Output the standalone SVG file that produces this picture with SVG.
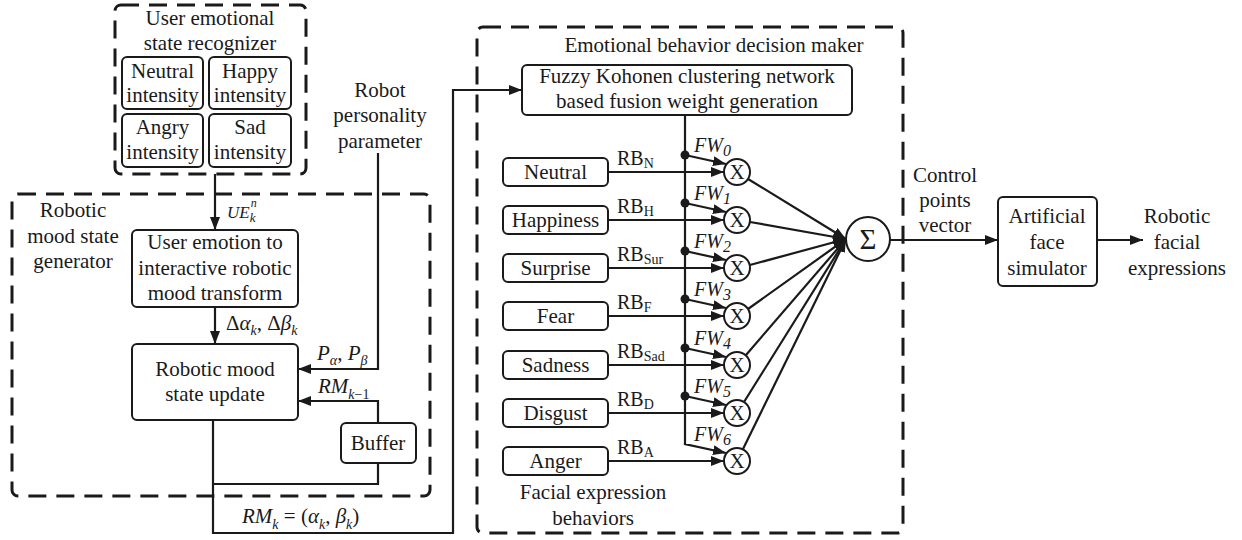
<svg xmlns="http://www.w3.org/2000/svg" width="1242" height="540" viewBox="0 0 1242 540" font-family="'Liberation Serif','Times New Roman',serif">
<defs>
<style>
.dash{fill:none;stroke:#1a1a1a;stroke-width:3;stroke-dasharray:18 10}
.box{fill:#fff;stroke:#1a1a1a;stroke-width:2}
.ln{fill:none;stroke:#1a1a1a;stroke-width:2.2}
.arr{marker-end:url(#ah)}
.dot{fill:#1a1a1a}
text{font-family:"Liberation Serif","Times New Roman",serif;font-size:21px;fill:#1a1a1a}
.c{text-anchor:middle}
.i{font-style:italic}
.s{font-size:14px}
.rb{font-size:20px}
</style>
<marker id="ah" markerUnits="userSpaceOnUse" markerWidth="13" markerHeight="10" refX="13" refY="5" orient="auto">
<path d="M0,0 L13,5 L0,10 z" fill="#1a1a1a"/>
</marker>
</defs>
<rect width="1242" height="540" fill="#fff"/>

<g id="containers">
<rect class="dash" x="115" y="5" width="191" height="169" rx="6"/>
<rect class="dash" x="12" y="194" width="418" height="302" rx="6"/>
<rect class="dash" x="477" y="27" width="426" height="506" rx="6"/>
</g>

<g id="connectors">
<line class="ln arr" x1="215" y1="174" x2="215" y2="230"/>
<line class="ln arr" x1="215" y1="307" x2="215" y2="344"/>
<polyline class="ln arr" points="378,153 378,369 298,369"/>
<polyline class="ln arr" points="378,423 378,401 298,401"/>
<polyline class="ln" points="378,463 378,484 213,484"/>
<polyline class="ln arr" points="213,420 213,533 453,533 453,90 522,90"/>
<polyline class="ln" points="685,115 685,444"/>
<line class="ln arr" x1="608" y1="172" x2="724" y2="172"/>
<line class="ln arr" x1="608" y1="220" x2="724" y2="220"/>
<line class="ln arr" x1="608" y1="268" x2="724" y2="268"/>
<line class="ln arr" x1="608" y1="316" x2="724" y2="316"/>
<line class="ln arr" x1="608" y1="365" x2="724" y2="365"/>
<line class="ln arr" x1="608" y1="413" x2="724" y2="413"/>
<line class="ln arr" x1="608" y1="461" x2="724" y2="461"/>
<line class="ln arr" x1="685" y1="155" x2="726" y2="164"/>
<line class="ln arr" x1="685" y1="203" x2="726" y2="212"/>
<line class="ln arr" x1="685" y1="251" x2="726" y2="260"/>
<line class="ln arr" x1="685" y1="299" x2="726" y2="308"/>
<line class="ln arr" x1="685" y1="348" x2="726" y2="357"/>
<line class="ln arr" x1="685" y1="396" x2="726" y2="405"/>
<polyline class="ln arr" points="685,443 685,444 726,453"/>
<circle class="dot" cx="685" cy="155" r="4.5"/>
<circle class="dot" cx="685" cy="203" r="4.5"/>
<circle class="dot" cx="685" cy="251" r="4.5"/>
<circle class="dot" cx="685" cy="299" r="4.5"/>
<circle class="dot" cx="685" cy="348" r="4.5"/>
<circle class="dot" cx="685" cy="396" r="4.5"/>
<line class="ln arr" x1="748" y1="179" x2="846" y2="239"/>
<line class="ln arr" x1="750" y1="222" x2="846" y2="239"/>
<line class="ln arr" x1="750" y1="265" x2="846" y2="239"/>
<line class="ln arr" x1="748" y1="309" x2="846" y2="239"/>
<line class="ln arr" x1="746" y1="355" x2="846" y2="239"/>
<line class="ln arr" x1="744" y1="402" x2="846" y2="239"/>
<line class="ln arr" x1="743" y1="449" x2="846" y2="239"/>
<line class="ln arr" x1="890" y1="240" x2="998" y2="240"/>
<line class="ln arr" x1="1097" y1="240" x2="1143" y2="240"/>
</g>

<g id="recognizer-title">
<text class="c" x="210" y="25">User emotional</text>
<text class="c" x="210" y="50">state recognizer</text>
</g>
<g id="neutral-intensity">
<rect class="box" x="122" y="57" width="81" height="52" rx="5"/>
<text class="c" x="162.5" y="78">Neutral</text>
<text class="c" x="162.5" y="102">intensity</text>
</g>
<g id="happy-intensity">
<rect class="box" x="209" y="57" width="82" height="52" rx="5"/>
<text class="c" x="250" y="78">Happy</text>
<text class="c" x="250" y="102">intensity</text>
</g>
<g id="angry-intensity">
<rect class="box" x="122" y="114" width="81" height="53" rx="5"/>
<text class="c" x="162.5" y="134">Angry</text>
<text class="c" x="162.5" y="159">intensity</text>
</g>
<g id="sad-intensity">
<rect class="box" x="209" y="114" width="82" height="53" rx="5"/>
<text class="c" x="250" y="134">Sad</text>
<text class="c" x="250" y="159">intensity</text>
</g>

<g id="mood-generator-label">
<text class="c" x="73" y="217">Robotic</text>
<text class="c" x="73" y="243">mood state</text>
<text class="c" x="73" y="268">generator</text>
</g>
<g id="robot-personality">
<text class="c" x="380" y="97">Robot</text>
<text class="c" x="380" y="122">personality</text>
<text class="c" x="380" y="148">parameter</text>
</g>
<g id="user-emotion-transform">
<rect class="box" x="132" y="230" width="166" height="77" rx="5"/>
<text class="c" x="215" y="249">User emotion to</text>
<text class="c" x="215" y="275">interactive robotic</text>
<text class="c" x="215" y="300">mood transform</text>
</g>
<g id="mood-update">
<rect class="box" x="132" y="344" width="166" height="76" rx="5"/>
<text class="c" x="215" y="376">Robotic mood</text>
<text class="c" x="215" y="401">state update</text>
</g>
<g id="buffer">
<rect class="box" x="341" y="423" width="75" height="40" rx="5"/>
<text class="c" x="378" y="450">Buffer</text>
</g>

<g id="labels-left">
<text class="i" x="227" y="218" style="font-size:17px">UE<tspan dx="1" dy="-11" style="font-size:12px">n</tspan><tspan dx="-7" dy="15" style="font-size:13px">k</tspan></text>
<text x="226" y="330">Δ<tspan class="i">α</tspan><tspan class="i s" dy="5">k</tspan><tspan dy="-5">, Δ</tspan><tspan class="i">β</tspan><tspan class="i s" dy="5">k</tspan></text>
<text x="317" y="360"><tspan class="i">P</tspan><tspan class="i s" dy="5">α</tspan><tspan dy="-5">, </tspan><tspan class="i">P</tspan><tspan class="i s" dy="5">β</tspan></text>
<text x="318" y="393"><tspan class="i">RM</tspan><tspan class="s" dy="6" font-style="italic">k</tspan><tspan class="s">−1</tspan></text>
<text x="242" y="523"><tspan class="i">RM</tspan><tspan class="i s" dy="6">k</tspan><tspan dy="-6"> = (</tspan><tspan class="i">α</tspan><tspan class="i s" dy="6">k</tspan><tspan dy="-6">, </tspan><tspan class="i">β</tspan><tspan class="i s" dy="6">k</tspan><tspan dy="-6">)</tspan></text>
</g>

<g id="decision-title">
<text class="c" x="714" y="52">Emotional behavior decision maker</text>
</g>
<g id="fuzzy-kohonen">
<rect class="box" x="522" y="65" width="330" height="50" rx="5"/>
<text class="c" x="687" y="83">Fuzzy Kohonen clustering network</text>
<text class="c" x="687" y="108">based fusion weight generation</text>
</g>

<g id="neutral"><rect class="box" x="503" y="158" width="105" height="28" rx="5"/><text class="c" x="555.5" y="179">Neutral</text></g>
<g id="happiness"><rect class="box" x="503" y="206" width="105" height="28" rx="5"/><text class="c" x="555.5" y="227">Happiness</text></g>
<g id="surprise"><rect class="box" x="503" y="254" width="105" height="28" rx="5"/><text class="c" x="555.5" y="275">Surprise</text></g>
<g id="fear"><rect class="box" x="503" y="302" width="105" height="28" rx="5"/><text class="c" x="555.5" y="323">Fear</text></g>
<g id="sadness"><rect class="box" x="503" y="351" width="105" height="28" rx="5"/><text class="c" x="555.5" y="372">Sadness</text></g>
<g id="disgust"><rect class="box" x="503" y="399" width="105" height="28" rx="5"/><text class="c" x="555.5" y="420">Disgust</text></g>
<g id="anger"><rect class="box" x="503" y="447" width="105" height="28" rx="5"/><text class="c" x="555.5" y="468">Anger</text></g>
<g id="behaviors-label">
<text class="c" x="593" y="499">Facial expression</text>
<text class="c" x="593" y="525">behaviors</text>
</g>

<g id="rb-labels">
<text class="rb" x="617" y="165">RB<tspan class="s" dy="3">N</tspan></text>
<text class="rb" x="617" y="213">RB<tspan class="s" dy="3">H</tspan></text>
<text class="rb" x="617" y="261">RB<tspan class="s" dy="3">Sur</tspan></text>
<text class="rb" x="617" y="309">RB<tspan class="s" dy="3">F</tspan></text>
<text class="rb" x="617" y="358">RB<tspan class="s" dy="3">Sad</tspan></text>
<text class="rb" x="617" y="406">RB<tspan class="s" dy="3">D</tspan></text>
<text class="rb" x="617" y="454">RB<tspan class="s" dy="3">A</tspan></text>
</g>
<g id="fw-labels">
<text class="i rb" x="694" y="152">FW<tspan dy="4" style="font-size:16px">0</tspan></text>
<text class="i rb" x="694" y="200">FW<tspan dy="4" style="font-size:16px">1</tspan></text>
<text class="i rb" x="694" y="248">FW<tspan dy="4" style="font-size:16px">2</tspan></text>
<text class="i rb" x="694" y="296">FW<tspan dy="4" style="font-size:16px">3</tspan></text>
<text class="i rb" x="694" y="345">FW<tspan dy="4" style="font-size:16px">4</tspan></text>
<text class="i rb" x="694" y="393">FW<tspan dy="4" style="font-size:16px">5</tspan></text>
<text class="i rb" x="694" y="441">FW<tspan dy="4" style="font-size:16px">6</tspan></text>
</g>

<g id="mult-0"><circle class="box" cx="737" cy="172" r="13"/><text class="c" x="737" y="179">X</text></g>
<g id="mult-1"><circle class="box" cx="737" cy="220" r="13"/><text class="c" x="737" y="227">X</text></g>
<g id="mult-2"><circle class="box" cx="737" cy="268" r="13"/><text class="c" x="737" y="275">X</text></g>
<g id="mult-3"><circle class="box" cx="737" cy="316" r="13"/><text class="c" x="737" y="323">X</text></g>
<g id="mult-4"><circle class="box" cx="737" cy="365" r="13"/><text class="c" x="737" y="372">X</text></g>
<g id="mult-5"><circle class="box" cx="737" cy="413" r="13"/><text class="c" x="737" y="420">X</text></g>
<g id="mult-6"><circle class="box" cx="737" cy="461" r="13"/><text class="c" x="737" y="468">X</text></g>

<g id="sigma">
<circle class="box" cx="868" cy="239" r="22"/>
<text class="c" x="868" y="249" style="font-size:29px">Σ</text>
</g>
<g id="control-label">
<text class="c" x="945" y="182">Control</text>
<text class="c" x="945" y="207">points</text>
<text class="c" x="945" y="232">vector</text>
</g>
<g id="face-simulator">
<rect class="box" x="998" y="197" width="99" height="89" rx="5"/>
<text class="c" x="1047" y="223">Artificial</text>
<text class="c" x="1047" y="249">face</text>
<text class="c" x="1047" y="275">simulator</text>
</g>
<g id="output-label">
<text class="c" x="1177" y="223">Robotic</text>
<text class="c" x="1177" y="249">facial</text>
<text class="c" x="1177" y="275">expressions</text>
</g>
</svg>
